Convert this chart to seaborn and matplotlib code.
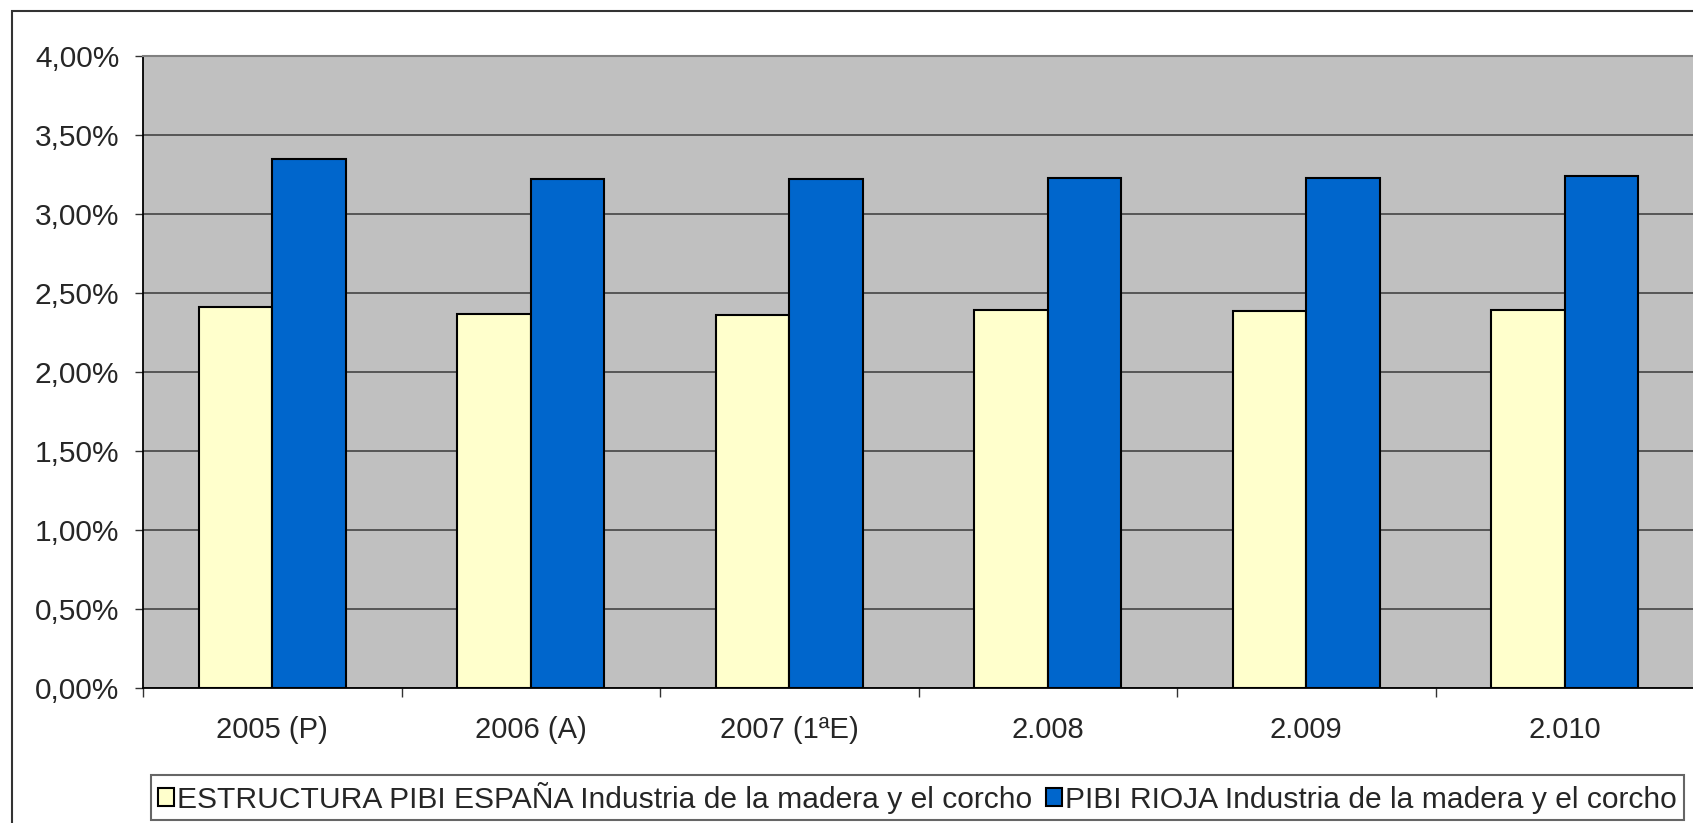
#====================================================================
# PIBI Industria de la madera y el corcho: España vs Rioja
#====================================================================

import pandas as pd
import matplotlib
matplotlib.use("Agg")
import matplotlib.pyplot as plt
import seaborn as sns
from matplotlib.patches import Rectangle
from matplotlib.ticker import FuncFormatter, FixedLocator

#====================================================================
# DATOS
#====================================================================

anios = ["2005 (P)", "2006 (A)", "2007 (1ªE)", "2.008", "2.009", "2.010"]

espana = [2.41, 2.37, 2.36, 2.39, 2.385, 2.39]
rioja = [3.345, 3.22, 3.22, 3.225, 3.23, 3.24]

serie_espana = "ESTRUCTURA PIBI ESPAÑA Industria de la madera y el corcho"
serie_rioja = "PIBI RIOJA Industria de la madera y el corcho"

colores = ["#FFFFCC", "#0066CC"]

df = pd.DataFrame({
    "anio": anios * 2,
    "valor": espana + rioja,
    "serie": [serie_espana] * len(anios) + [serie_rioja] * len(anios),
})

#====================================================================
# GRAFICO
#====================================================================

sns.set_style("white")
plt.rcParams["font.family"] = ["Liberation Sans", "DejaVu Sans"]

W, H = 1693, 823
fig = plt.figure(figsize=(W / 100, H / 100), dpi=100)
ax = fig.add_axes([143 / W, 1 - 688 / H, (1694 - 143) / W, (688 - 56) / H])

sns.barplot(
    data=df,
    x="anio",
    y="valor",
    hue="serie",
    palette=colores,
    saturation=1,
    edgecolor="black",
    linewidth=1.5,
    width=0.57,
    gap=0,
    ax=ax,
)

ax.set_facecolor("#C0C0C0")
ax.set_xlim(-0.5, len(anios) - 0.5)
ax.set_ylim(0, 4)
ax.set_yticks([i * 0.5 for i in range(9)])
ax.yaxis.set_major_formatter(
    FuncFormatter(lambda v, p: f"{v:.2f}".replace(".", ",") + "%")
)
ax.yaxis.grid(True, color="#4d4d4d", linewidth=1.3)
ax.set_axisbelow(True)

ax.set_xlabel("")
ax.set_ylabel("")

# ticks en los limites de categoria
ax.xaxis.set_minor_locator(FixedLocator([i - 0.5 for i in range(len(anios) + 1)]))
ax.tick_params(axis="x", which="major", length=0, pad=20, labelsize=21)
ax.tick_params(axis="x", which="minor", length=6.5, width=1, color="#333333",
               direction="out", bottom=True)
ax.tick_params(axis="y", length=6, width=1, color="#333333", direction="out",
               left=True, pad=11, labelsize=21.5)

for lado in ["left", "bottom"]:
    ax.spines[lado].set_color("black")
    ax.spines[lado].set_linewidth(1.3)
ax.spines["top"].set_color("#808080")
ax.spines["top"].set_linewidth(1.5)
ax.spines["right"].set_visible(False)

# leyenda
ax.get_legend().remove()
handles = [Rectangle((0, 0), 1, 1, facecolor=c, edgecolor="black", linewidth=1.5)
           for c in colores]
leg = fig.legend(
    handles,
    [serie_espana, serie_rioja],
    loc="center",
    bbox_to_anchor=((148 + 1687) / 2 / W, 1 - 797.5 / H),
    ncol=2,
    fontsize=21.6,
    frameon=True,
    fancybox=False,
    handlelength=0.55,
    handleheight=0.55,
    handletextpad=0.1,
    columnspacing=0.45,
    borderpad=0.22,
    borderaxespad=0,
)
leg.get_frame().set_edgecolor("#404040")
leg.get_frame().set_linewidth(1.5)

# marco exterior
fig.patches.append(Rectangle((12 / W, -0.1), 2, 1 - 11 / H + 0.1, fill=False,
                             edgecolor="#333333", linewidth=1.5,
                             transform=fig.transFigure, figure=fig))

fig.savefig("out.png", dpi=100, facecolor="white")
